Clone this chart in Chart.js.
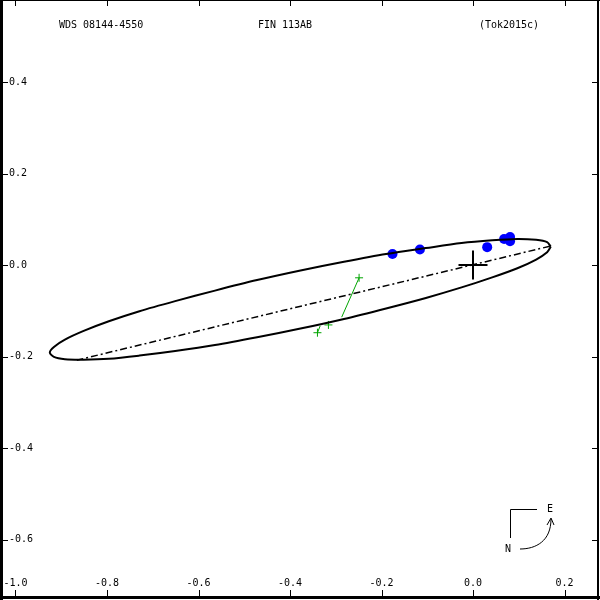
<!DOCTYPE html>
<html lang="en">
<head>
<meta charset="utf-8"/>
<title>WDS 08144-4550 FIN 113AB</title>
<style>
  body { margin: 0; padding: 0; background: #fff; }
  canvas { display: block; }
</style>
</head>
<body>
<canvas id="chart" width="600" height="600"></canvas>
<script src="https://cdn.jsdelivr.net/npm/chart.js"></script>
<script>
// tick values on the axes
const xTicks = [-1.0, -0.8, -0.6, -0.4, -0.2, 0.0, 0.2];
const yTicks = [0.4, 0.2, 0.0, -0.2, -0.4, -0.6];

// apparent orbit (x, y in arcsec)
const orbit = [
  [0.170, 0.040], [0.162, 0.050], [0.138, 0.055], [0.097, 0.057], [0.042, 0.054],
  [-0.025, 0.048], [-0.103, 0.037], [-0.190, 0.024], [-0.282, 0.007], [-0.377, -0.012],
  [-0.472, -0.033], [-0.564, -0.056], [-0.651, -0.079], [-0.729, -0.101], [-0.796, -0.123],
  [-0.851, -0.144], [-0.892, -0.163], [-0.916, -0.179], [-0.925, -0.191], [-0.916, -0.201],
  [-0.892, -0.206], [-0.851, -0.207], [-0.796, -0.205], [-0.729, -0.198], [-0.651, -0.188],
  [-0.564, -0.175], [-0.472, -0.158], [-0.377, -0.139], [-0.282, -0.118], [-0.190, -0.095],
  [-0.103, -0.072], [-0.025, -0.049], [0.042, -0.027], [0.097, -0.007], [0.138, 0.012],
  [0.162, 0.028], [0.170, 0.040]
];

// line of nodes
const nodes = [[0.168, 0.041], [-0.866, -0.208]];

// speckle measures (blue)
const speckle = [
  [-0.176, 0.024], [-0.116, 0.034], [0.031, 0.039],
  [0.068, 0.057], [0.081, 0.061], [0.081, 0.052]
];

// micrometric measures (green) and their places on the orbit
const visualObs = [[-0.249, -0.028], [-0.316, -0.131], [-0.340, -0.148]];
const visualCalc = [[-0.287, -0.114], [-0.316, -0.125], [-0.334, -0.133]];

const pts = a => a.map(p => ({ x: p[0], y: p[1] }));
const green = '#00a400';
const font = '10px "DejaVu Sans Mono", monospace';

const residuals = visualObs.map((o, i) => ({
  data: pts([o, visualCalc[i]]),
  showLine: true, borderColor: green, borderWidth: 1, pointRadius: 0, order: 3
}));

const decor = {
  id: 'decor',
  afterDraw(chart) {
    const { ctx, scales: { x, y } } = chart;
    ctx.save();
    ctx.fillStyle = '#000';
    ctx.strokeStyle = '#000';

    // frame
    ctx.fillRect(0, 0, 3, 600);
    ctx.fillRect(0, 596, 600, 3);
    ctx.fillRect(597, 0, 2, 600);
    ctx.fillRect(0, 0, 600, 1);

    // tick marks, pointing inwards
    ctx.lineWidth = 1;
    ctx.beginPath();
    xTicks.forEach(v => {
      const px = Math.round(x.getPixelForValue(v)) + 0.5;
      ctx.moveTo(px, 0); ctx.lineTo(px, 6);
      ctx.moveTo(px, 596); ctx.lineTo(px, 590);
    });
    yTicks.forEach(v => {
      const py = Math.round(y.getPixelForValue(v)) + 0.5;
      ctx.moveTo(3, py); ctx.lineTo(8, py);
      ctx.moveTo(597, py); ctx.lineTo(592, py);
    });
    ctx.stroke();

    // tick labels
    ctx.font = font;
    ctx.textBaseline = 'middle';
    ctx.textAlign = 'center';
    xTicks.forEach(v => ctx.fillText(v.toFixed(1), x.getPixelForValue(v), 583));
    ctx.textAlign = 'left';
    yTicks.forEach(v => ctx.fillText(v.toFixed(1), 9, y.getPixelForValue(v)));

    // header
    ctx.fillText('WDS 08144-4550', 59, 25);
    ctx.textAlign = 'center';
    ctx.fillText('FIN 113AB', 285, 25);
    ctx.fillText('(Tok2015c)', 509, 25);

    // orientation sign
    ctx.beginPath();
    ctx.moveTo(537, 509.5); ctx.lineTo(510.5, 509.5); ctx.lineTo(510.5, 538);
    ctx.moveTo(520, 549); ctx.bezierCurveTo(536, 549, 551, 541, 551, 519);
    ctx.moveTo(547, 525); ctx.lineTo(551, 518); ctx.lineTo(554, 525);
    ctx.stroke();
    ctx.fillText('E', 550, 509);
    ctx.fillText('N', 508, 549);
    ctx.restore();
  }
};

new Chart(document.getElementById('chart'), {
  type: 'scatter',
  data: {
    datasets: [
      { label: 'orbit', data: pts(orbit), showLine: true, borderColor: '#000', borderWidth: 2,
        pointRadius: 0, tension: 0.3, order: 0 },
      { label: 'nodes', data: pts(nodes), showLine: true, borderColor: '#000', borderWidth: 1.5,
        borderDash: [7, 3, 2, 3], pointRadius: 0, order: 1 },
      { label: 'primary', data: [{ x: 0, y: 0 }], pointStyle: 'cross', pointRadius: 14.5,
        borderColor: '#000', borderWidth: 2, order: 1 },
      { label: 'speckle', data: pts(speckle), pointRadius: 5, backgroundColor: '#0000ff',
        borderColor: '#0000ff', borderWidth: 0, order: 2 },
      ...residuals,
      { label: 'visual', data: pts(visualObs), pointStyle: 'cross', pointRadius: 4,
        borderColor: green, borderWidth: 1, order: 3 }
    ]
  },
  options: {
    responsive: false,
    animation: false,
    events: [],
    layout: { padding: 0, autoPadding: false },
    plugins: { legend: { display: false }, tooltip: { enabled: false } },
    scales: {
      x: { type: 'linear', display: false, min: -473 / 457.5, max: 127 / 457.5 },
      y: { type: 'linear', display: false, min: -335 / 457.5, max: 265 / 457.5 }
    }
  },
  plugins: [decor]
});
</script>
</body>
</html>
